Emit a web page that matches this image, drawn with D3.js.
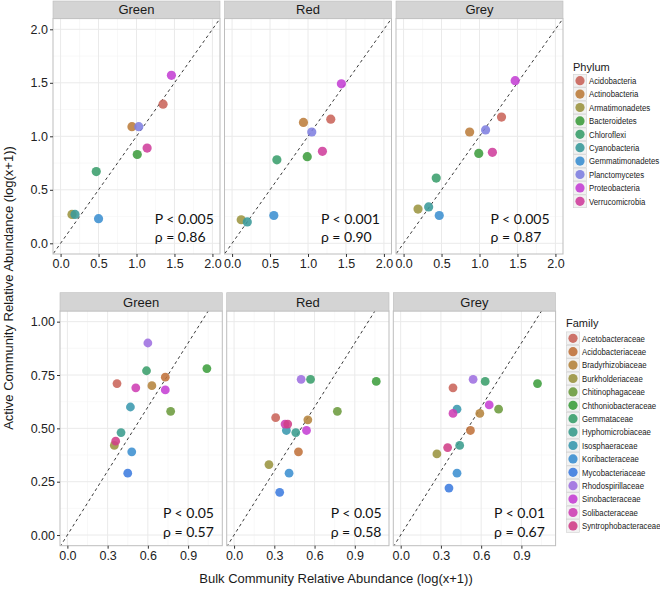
<!DOCTYPE html>
<html><head><meta charset="utf-8">
<script src="https://cdn.jsdelivr.net/npm/d3@7"></script>
<style>
body{margin:0;background:#fff;}
svg{display:block;}
</style></head>
<body>
<svg id="chart" width="660" height="594"></svg>
<script>
// ---------------- DATA ----------------
const panels = ["Green", "Red", "Grey"];

const phyla = ["Acidobacteria","Actinobacteria","Armatimonadetes","Bacteroidetes","Chloroflexi","Cyanobacteria","Gemmatimonadetes","Planctomycetes","Proteobacteria","Verrucomicrobia"];
const phylumColors = ["#C9645A","#BC7D3C","#9C9541","#3F9D3F","#3A9E6C","#3A9A9A","#3C8FD0","#8080E0","#C440D4","#CF3F9C"];

// bulk (x) and active (y) per phylum, in order of `phyla`
const phylumBulkGreen   = [1.35, 0.94, 0.15, 1.01, 0.47, 0.19, 0.50, 1.03, 1.46, 1.14];
const phylumActiveGreen = [1.30, 1.09, 0.27, 0.83, 0.67, 0.27, 0.23, 1.09, 1.57, 0.89];
const phylumBulkRed     = [1.30, 0.94, 0.12, 0.99, 0.59, 0.20, 0.55, 1.05, 1.44, 1.19];
const phylumActiveRed   = [1.16, 1.13, 0.22, 0.81, 0.78, 0.20, 0.26, 1.04, 1.49, 0.86];
const phylumBulkGrey    = [1.29, 0.87, 0.19, 0.99, 0.43, 0.33, 0.47, 1.08, 1.47, 1.17];
const phylumActiveGrey  = [1.18, 1.04, 0.32, 0.84, 0.61, 0.34, 0.26, 1.06, 1.52, 0.85];

const families = ["Acetobacteraceae","Acidobacteriaceae","Bradyrhizobiaceae","Burkholderiaceae","Chitinophagaceae","Chthoniobacteraceae","Gemmataceae","Hyphomicrobiaceae","Isosphaeraceae","Koribacteraceae","Mycobacteriaceae","Rhodospirillaceae","Sinobacteraceae","Solibacteraceae","Syntrophobacteraceae"];
const familyColors = ["#C9645A","#C0723B","#B5843D","#9A9440","#6C9B3D","#3E9E3E","#3A9E6B","#3A9C8D","#3A99AE","#3C8FD0","#3E7CDF","#9E70E0","#C540D4","#CE3FB4","#D03F88"];

const familyBulkGreen   = [0.37, 0.73, 0.63, 0.35, 0.77, 1.04, 0.59, 0.40, 0.47, 0.48, 0.45, 0.60, 0.73, 0.51, 0.36];
const familyActiveGreen = [0.71, 0.74, 0.70, 0.42, 0.58, 0.78, 0.77, 0.48, 0.60, 0.39, 0.29, 0.90, 0.68, 0.69, 0.44];
const familyBulkRed     = [0.31, 0.48, 0.55, 0.26, 0.77, 1.06, 0.57, 0.46, 0.39, 0.41, 0.34, 0.50, 0.54, 0.38, 0.40];
const familyActiveRed   = [0.55, 0.39, 0.54, 0.33, 0.58, 0.72, 0.73, 0.48, 0.49, 0.29, 0.20, 0.73, 0.49, 0.52, 0.52];
const familyBulkGrey    = [0.39, 0.52, 0.59, 0.27, 0.73, 1.02, 0.63, 0.44, 0.42, 0.42, 0.36, 0.54, 0.66, 0.39, 0.35];
const familyActiveGrey  = [0.69, 0.49, 0.57, 0.38, 0.59, 0.71, 0.72, 0.42, 0.59, 0.29, 0.22, 0.73, 0.61, 0.57, 0.41];

const topPLabels   = ["P < 0.005", "P < 0.001", "P < 0.005"];
const topRhoLabels = ["ρ = 0.86", "ρ = 0.90", "ρ = 0.87"];
const botPLabels   = ["P < 0.05", "P < 0.05", "P < 0.01"];
const botRhoLabels = ["ρ = 0.57", "ρ = 0.58", "ρ = 0.67"];

const topTicks = [0, 0.5, 1.0, 1.5, 2.0];
const botYTicks = [0, 0.25, 0.5, 0.75, 1.0];
const botXTicks = [0, 0.3, 0.6, 0.9];

// ---------------- LAYOUT ----------------
const svg = d3.select("#chart");
const axisFont = "'Liberation Sans', Arial, sans-serif";
const annFont = "Lato, 'Open Sans', sans-serif";

function drawRow(cfg) {
  const g = svg.append("g");
  cfg.lefts.forEach((left, pi) => {
    const x = d3.scaleLinear().domain(cfg.xDomain).range([left, left + cfg.width]);
    const y = d3.scaleLinear().domain(cfg.yDomain).range([cfg.bottom, cfg.top]);
    const pg = g.append("g");
    pg.append("rect").attr("x", left).attr("y", cfg.top).attr("width", cfg.width).attr("height", cfg.bottom - cfg.top).attr("fill", "#fff");
    cfg.xMinor.forEach(v => pg.append("line").attr("x1", x(v)).attr("x2", x(v)).attr("y1", cfg.top).attr("y2", cfg.bottom).attr("stroke", "#F3F3F3").attr("stroke-width", 0.6));
    cfg.yMinor.forEach(v => pg.append("line").attr("y1", y(v)).attr("y2", y(v)).attr("x1", left).attr("x2", left + cfg.width).attr("stroke", "#F3F3F3").attr("stroke-width", 0.6));
    cfg.xTicks.forEach(v => pg.append("line").attr("x1", x(v)).attr("x2", x(v)).attr("y1", cfg.top).attr("y2", cfg.bottom).attr("stroke", "#EAEAEA").attr("stroke-width", 1));
    cfg.yTicks.forEach(v => pg.append("line").attr("y1", y(v)).attr("y2", y(v)).attr("x1", left).attr("x2", left + cfg.width).attr("stroke", "#EAEAEA").attr("stroke-width", 1));
    const clipId = "clip" + cfg.id + pi;
    pg.append("clipPath").attr("id", clipId).append("rect").attr("x", left).attr("y", cfg.top).attr("width", cfg.width).attr("height", cfg.bottom - cfg.top);
    const lo = Math.min(cfg.xDomain[0], cfg.yDomain[0]) - 1, hi = Math.max(cfg.xDomain[1], cfg.yDomain[1]) + 1;
    pg.append("line").attr("clip-path", `url(#${clipId})`)
      .attr("x1", x(lo)).attr("y1", y(lo)).attr("x2", x(hi)).attr("y2", y(hi))
      .attr("stroke", "#222").attr("stroke-width", 0.9).attr("stroke-dasharray", "3,3");
    const bx = cfg.bulk[pi], ay = cfg.active[pi];
    pg.selectAll("circle.pt").data(bx.map((v, i) => ({x: v, y: ay[i], c: cfg.colors[i]})))
      .enter().append("circle").attr("class", "pt")
      .attr("cx", d => x(d.x)).attr("cy", d => y(d.y)).attr("r", cfg.r)
      .attr("fill", d => d.c).attr("fill-opacity", 0.88);
    const ax = x(cfg.annX[pi]);
    pg.append("text").attr("x", ax).attr("y", y(cfg.annY[0])).attr("dy", "0.35em")
      .attr("font-family", annFont).attr("font-size", 14).attr("fill", "#111").text(cfg.pLabels[pi]);
    pg.append("text").attr("x", ax).attr("y", y(cfg.annY[1])).attr("dy", "0.35em")
      .attr("font-family", annFont).attr("font-size", 14).attr("fill", "#111").text(cfg.rhoLabels[pi]);
    pg.append("rect").attr("x", left).attr("y", cfg.top).attr("width", cfg.width).attr("height", cfg.bottom - cfg.top)
      .attr("fill", "none").attr("stroke", "#BDBDBD").attr("stroke-width", 1);
    pg.append("rect").attr("x", left).attr("y", cfg.stripTop).attr("width", cfg.width).attr("height", cfg.top - cfg.stripTop)
      .attr("fill", "#D4D4D4").attr("stroke", "#BDBDBD").attr("stroke-width", 0.6);
    pg.append("text").attr("x", left + cfg.width / 2).attr("y", (cfg.stripTop + cfg.top) / 2).attr("dy", "0.36em")
      .attr("text-anchor", "middle").attr("font-family", axisFont).attr("font-size", 13).attr("fill", "#1a1a1a").text(panels[pi]);
    const xa = pg.append("g").attr("transform", `translate(0,${cfg.bottom})`)
      .call(d3.axisBottom(x).tickValues(cfg.xTicks).tickFormat(d3.format(cfg.xFmt)).tickSize(3).tickPadding(2));
    xa.select(".domain").remove();
    xa.selectAll("line").attr("stroke", "#333");
    xa.selectAll("text").attr("font-family", axisFont).attr("font-size", 12.5).attr("fill", "#222");
    if (pi === 0) {
      const ya = pg.append("g").attr("transform", `translate(${left},0)`)
        .call(d3.axisLeft(y).tickValues(cfg.yTicks).tickFormat(d3.format(cfg.yFmt)).tickSize(3).tickPadding(2));
      ya.select(".domain").remove();
      ya.selectAll("line").attr("stroke", "#333");
      ya.selectAll("text").attr("font-family", axisFont).attr("font-size", 12.5).attr("fill", "#222");
    }
  });
  // legend
  const lg = g.append("g");
  lg.append("text").attr("x", cfg.legX).attr("y", cfg.legTitleY).attr("dy", "0.35em")
    .attr("font-family", axisFont).attr("font-size", 11).attr("fill", "#1a1a1a").text(cfg.legTitle);
  const kh = 13.4;
  cfg.names.forEach((n, i) => {
    const cy = cfg.legY0 + i * kh;
    lg.append("rect").attr("x", cfg.legX + 0.5).attr("y", cy - kh / 2 + 0.3).attr("width", 13).attr("height", kh - 0.6)
      .attr("fill", "#F2F2F2").attr("stroke", "#D0D0D0").attr("stroke-width", 0.6);
    lg.append("circle").attr("cx", cfg.legX + 7).attr("cy", cy).attr("r", 4.6).attr("fill", cfg.colors[i]).attr("fill-opacity", 0.9);
    lg.append("text").attr("transform", `translate(${cfg.legX + 16},${cy}) scale(0.84,1)`).attr("dy", "0.35em")
      .attr("font-family", axisFont).attr("font-size", 9.3).attr("fill", "#1a1a1a").text(n);
  });
}

drawRow({
  id: "top", lefts: [53, 224.5, 396], width: 167, top: 18.6, bottom: 254, stripTop: 1,
  xDomain: [-0.1, 2.1], yDomain: [-0.1, 2.1],
  xTicks: topTicks, yTicks: topTicks, xMinor: [0.25, 0.75, 1.25, 1.75], yMinor: [0.25, 0.75, 1.25, 1.75],
  xFmt: ".1f", yFmt: ".1f",
  bulk: [phylumBulkGreen, phylumBulkRed, phylumBulkGrey],
  active: [phylumActiveGreen, phylumActiveRed, phylumActiveGrey],
  colors: phylumColors, r: 4.6,
  annX: [1.24, 1.17, 1.145], annY: [0.227, 0.06],
  pLabels: topPLabels, rhoLabels: topRhoLabels,
  legTitle: "Phylum", legX: 573, legTitleY: 67, legY0: 80.7, names: phyla
});

drawRow({
  id: "bot", lefts: [60, 226.7, 393.3], width: 162.3, top: 311, bottom: 545.7, stripTop: 292.7,
  xDomain: [-0.055, 1.155], yDomain: [-0.05, 1.05],
  xTicks: botXTicks, yTicks: botYTicks, xMinor: [0.15, 0.45, 0.75, 1.05], yMinor: [0.125, 0.375, 0.625, 0.875],
  xFmt: ".1f", yFmt: ".2f",
  bulk: [familyBulkGreen, familyBulkRed, familyBulkGrey],
  active: [familyActiveGreen, familyActiveRed, familyActiveGrey],
  colors: familyColors, r: 4.4,
  annX: [0.713, 0.72, 0.696], annY: [0.105, 0.012],
  pLabels: botPLabels, rhoLabels: botRhoLabels,
  legTitle: "Family", legX: 566, legTitleY: 323.3, legY0: 338.3, names: families
});

// axis titles
svg.append("text").attr("transform", "translate(8,288) rotate(-90)").attr("text-anchor", "middle").attr("dy", "0.35em")
  .attr("font-family", axisFont).attr("font-size", 13).attr("fill", "#1a1a1a").text("Active Community Relative Abundance (log(x+1))");
svg.append("text").attr("x", 336).attr("y", 578).attr("text-anchor", "middle").attr("dy", "0.35em")
  .attr("font-family", axisFont).attr("font-size", 13).attr("fill", "#1a1a1a").text("Bulk Community Relative Abundance (log(x+1))");
</script>
</body></html>
